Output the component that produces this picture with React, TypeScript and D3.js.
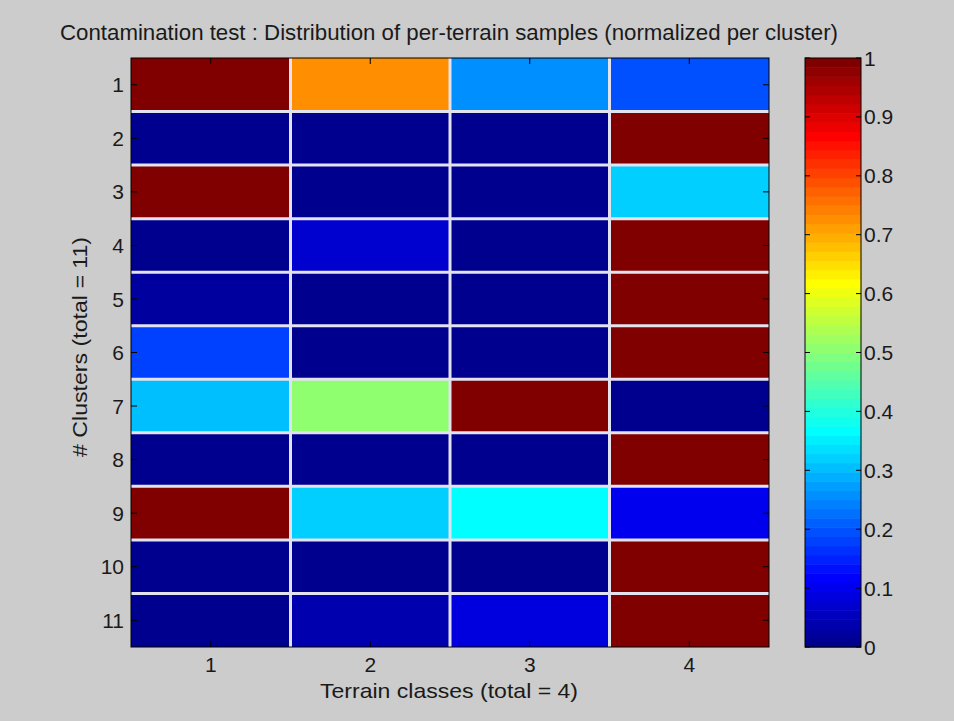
import React from "react";
import * as d3 from "d3";

const terrains = ["1", "2", "3", "4"];
const clusters = ["1", "2", "3", "4", "5", "6", "7", "8", "9", "10", "11"];
// normalized per-cluster values, one array per terrain class (rows = clusters 1..11)
const terrain1 = [1, 0.01, 1, 0, 0.02, 0.18, 0.3, 0, 1, 0.01, 0];
const terrain2 = [0.72, 0, 0, 0.07, 0.01, 0.01, 0.5, 0.01, 0.32, 0, 0.035];
const terrain3 = [0.26, 0.01, 0.01, 0.01, 0.01, 0.01, 1, 0.01, 0.37, 0.01, 0.08];
const terrain4 = [0.19, 1, 0.32, 1, 1, 1, 0.01, 1, 0.1, 1, 1];
const colorbarTicks = [0, 0.1, 0.2, 0.3, 0.4, 0.5, 0.6, 0.7, 0.8, 0.9, 1];
const colorbarTickLabels = ["0", "0.1", "0.2", "0.3", "0.4", "0.5", "0.6", "0.7", "0.8", "0.9", "1"];

const titleText = "Contamination test : Distribution of per-terrain samples (normalized per cluster)";
const xLabelText = "Terrain classes (total = 4)";
const yLabelText = "# Clusters (total = 11)";

function jet(m: number): string[] {
  const n = Math.ceil(m / 4);
  const u: number[] = [];
  for (let i = 1; i <= n; i++) u.push(i / n);
  for (let i = 1; i < n; i++) u.push(1);
  for (let i = n; i >= 1; i--) u.push(i / n);
  const gOff = Math.ceil(n / 2) - (m % 4 === 1 ? 1 : 0);
  const J = Array.from({ length: m }, () => [0, 0, 0]);
  for (let k = 0; k < u.length; k++) {
    const g = gOff + k + 1;
    const r = g + n;
    const b = g - n;
    if (r >= 1 && r <= m) J[r - 1][0] = u[k];
    if (g >= 1 && g <= m) J[g - 1][1] = u[k];
    if (b >= 1 && b <= m) J[b - 1][2] = u[k];
  }
  return J.map(([r, g, b]) => d3.rgb(r * 255, g * 255, b * 255).formatHex());
}

const W = 954;
const H = 721;
const FONT = "'Liberation Sans', Arial, Helvetica, sans-serif";
const TXT = "#1a1a1a";
const FS = 21;

export default function App() {
  const cmap = jet(64);
  const colorOf = (v: number) => cmap[Math.min(63, Math.floor(v * 64))];

  const plot = { left: 131, right: 769, top: 58, bottom: 647 };
  const x = d3.scaleBand<string>().domain(terrains).range([plot.left, plot.right]);
  const y = d3.scaleBand<string>().domain(clusters).range([plot.top, plot.bottom]);
  const series = [terrain1, terrain2, terrain3, terrain4];

  const cb = { left: 805, right: 861 };
  const cy = d3.scaleLinear().domain([0, 1]).range([plot.bottom, plot.top]);

  const cells: React.ReactNode[] = [];
  series.forEach((vals, ti) => {
    vals.forEach((v, ci) => {
      cells.push(
        <rect
          key={`c${ti}-${ci}`}
          x={x(terrains[ti])}
          y={y(clusters[ci])}
          width={x.bandwidth()}
          height={y.bandwidth()}
          fill={colorOf(v)}
        />
      );
    });
  });

  const tickLen = 6;

  return (
    <svg
      width={W}
      height={H}
      style={{ position: "absolute", left: 0, top: 0, display: "block" }}
      fontFamily={FONT}
    >
      <rect x={0} y={0} width={W} height={H} fill="#cccccc" />
      {cells}
      {/* grid separators */}
      {terrains.slice(1).map((t) => (
        <line key={`vx${t}`} x1={x(t)} x2={x(t)} y1={plot.top} y2={plot.bottom} stroke="#e2e2f0" strokeWidth={3} />
      ))}
      {clusters.slice(1).map((c) => (
        <line key={`hy${c}`} x1={plot.left} x2={plot.right} y1={y(c)} y2={y(c)} stroke="#e2e2f0" strokeWidth={3} />
      ))}
      {/* ticks */}
      {terrains.map((t) => {
        const cx = (x(t) as number) + x.bandwidth() / 2;
        return (
          <g key={`xt${t}`}>
            <line x1={cx} x2={cx} y1={plot.bottom} y2={plot.bottom - tickLen} stroke="#000" />
            <line x1={cx} x2={cx} y1={plot.top} y2={plot.top + tickLen} stroke="#000" />
            <text x={cx} y={672} textAnchor="middle" fontSize={FS} fill={TXT}>{t}</text>
          </g>
        );
      })}
      {clusters.map((c) => {
        const cyy = (y(c) as number) + y.bandwidth() / 2;
        return (
          <g key={`yt${c}`}>
            <line x1={plot.left} x2={plot.left + tickLen} y1={cyy} y2={cyy} stroke="#000" />
            <line x1={plot.right} x2={plot.right - tickLen} y1={cyy} y2={cyy} stroke="#000" />
            <text x={124} y={cyy} dy="0.36em" textAnchor="end" fontSize={FS} fill={TXT}>{c}</text>
          </g>
        );
      })}
      <rect x={plot.left} y={plot.top} width={plot.right - plot.left} height={plot.bottom - plot.top} fill="none" stroke="#000" strokeWidth={1} />
      {/* colorbar */}
      {cmap.map((col, i) => (
        <rect
          key={`cb${i}`}
          x={cb.left}
          y={cy((i + 1) / 64)}
          width={cb.right - cb.left}
          height={cy(i / 64) - cy((i + 1) / 64) + 0.5}
          fill={col}
        />
      ))}
      <rect x={cb.left} y={plot.top} width={cb.right - cb.left} height={plot.bottom - plot.top} fill="none" stroke="#000" strokeWidth={1} />
      {colorbarTicks.map((v, i) => (
        <g key={`cbt${i}`}>
          <line x1={cb.left} x2={cb.left + 5} y1={cy(v)} y2={cy(v)} stroke="#000" />
          <line x1={cb.right} x2={cb.right - 5} y1={cy(v)} y2={cy(v)} stroke="#000" />
          <text x={864} y={cy(v)} dy="0.36em" fontSize={FS} fill={TXT}>{colorbarTickLabels[i]}</text>
        </g>
      ))}
      {/* labels */}
      <text x={449} y={40} textAnchor="middle" fontSize={22} fill={TXT} textLength={778} lengthAdjust="spacingAndGlyphs">{titleText}</text>
      <text x={449} y={698} textAnchor="middle" fontSize={21} fill={TXT} textLength={258} lengthAdjust="spacingAndGlyphs">{xLabelText}</text>
      <text transform={`translate(87,347) rotate(-90)`} textAnchor="middle" fontSize={21} fill={TXT} textLength={220} lengthAdjust="spacingAndGlyphs">{yLabelText}</text>
    </svg>
  );
}
